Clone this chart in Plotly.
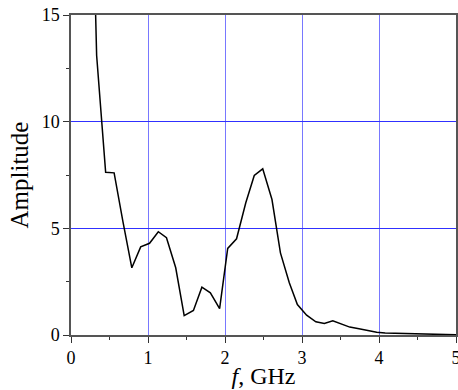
import plotly.graph_objects as go

freq_ghz = [0.22, 0.333, 0.45, 0.56, 0.675, 0.79, 0.905, 1.02, 1.134, 1.24, 1.36, 1.47,
            1.59, 1.70, 1.81, 1.93, 2.035, 2.15, 2.27, 2.38, 2.49, 2.61, 2.72, 2.835,
            2.94, 3.06, 3.18, 3.29, 3.40, 3.51, 3.62, 3.74, 3.85, 3.97, 4.08, 4.20,
            4.31, 4.43, 4.54, 4.66, 4.77, 4.89, 5.0]
amplitude = [29.5, 13.1, 7.63, 7.6, 5.3, 3.15, 4.13, 4.3, 4.84, 4.56, 3.15, 0.91,
             1.15, 2.24, 1.98, 1.24, 4.06, 4.51, 6.2, 7.48, 7.79, 6.35, 3.85, 2.45,
             1.43, 0.93, 0.62, 0.54, 0.67, 0.52, 0.37, 0.29, 0.2, 0.13, 0.09, 0.08,
             0.06, 0.03, 0.02, 0.015, 0.01, 0.01, 0.01]

x_ticks = [0, 1, 2, 3, 4, 5]
y_ticks = [0, 5, 10, 15]

font_family = "Liberation Serif, Times New Roman, serif"

fig = go.Figure()
fig.add_trace(go.Scatter(x=freq_ghz, y=amplitude, mode="lines",
                         line=dict(color="black", width=1.5), showlegend=False))

fig.update_layout(
    width=458, height=390,
    margin=dict(l=71, r=2, t=15, b=55),
    paper_bgcolor="white", plot_bgcolor="white",
    font=dict(family=font_family, color="black", size=18),
    xaxis=dict(
        range=[0, 5], tickvals=x_ticks, ticktext=[str(v) for v in x_ticks],
        showgrid=True, gridcolor="#7878ff", gridwidth=1,
        zeroline=False, showline=True, linecolor="#555555", linewidth=1.5,
        mirror=True, ticks="outside", ticklen=6, tickwidth=1.2, tickcolor="#333333",
        minor=dict(dtick=0.5, ticks="outside", ticklen=3, tickwidth=1.2, tickcolor="#333333", showgrid=False),
        title=dict(text="<i>f</i>, GHz", font=dict(size=24, family=font_family), standoff=0),
        tickfont=dict(size=18, family=font_family), automargin=False, ticklabeloverflow="allow",
    ),
    yaxis=dict(
        range=[0, 15], tickvals=y_ticks, ticktext=[str(v) for v in y_ticks],
        showgrid=True, gridcolor="#3030ff", gridwidth=1,
        zeroline=False, showline=True, linecolor="#555555", linewidth=1.5,
        mirror=True, ticks="outside", ticklen=6, tickwidth=1.2, tickcolor="#333333",
        minor=dict(dtick=2.5, ticks="outside", ticklen=3, tickwidth=1.2, tickcolor="#333333", showgrid=False),
        title=dict(text="Amplitude", font=dict(size=25, family=font_family), standoff=6),
        tickfont=dict(size=18, family=font_family), automargin=False, ticklabeloverflow="allow",
    ),
)

fig.write_html("out.html")
